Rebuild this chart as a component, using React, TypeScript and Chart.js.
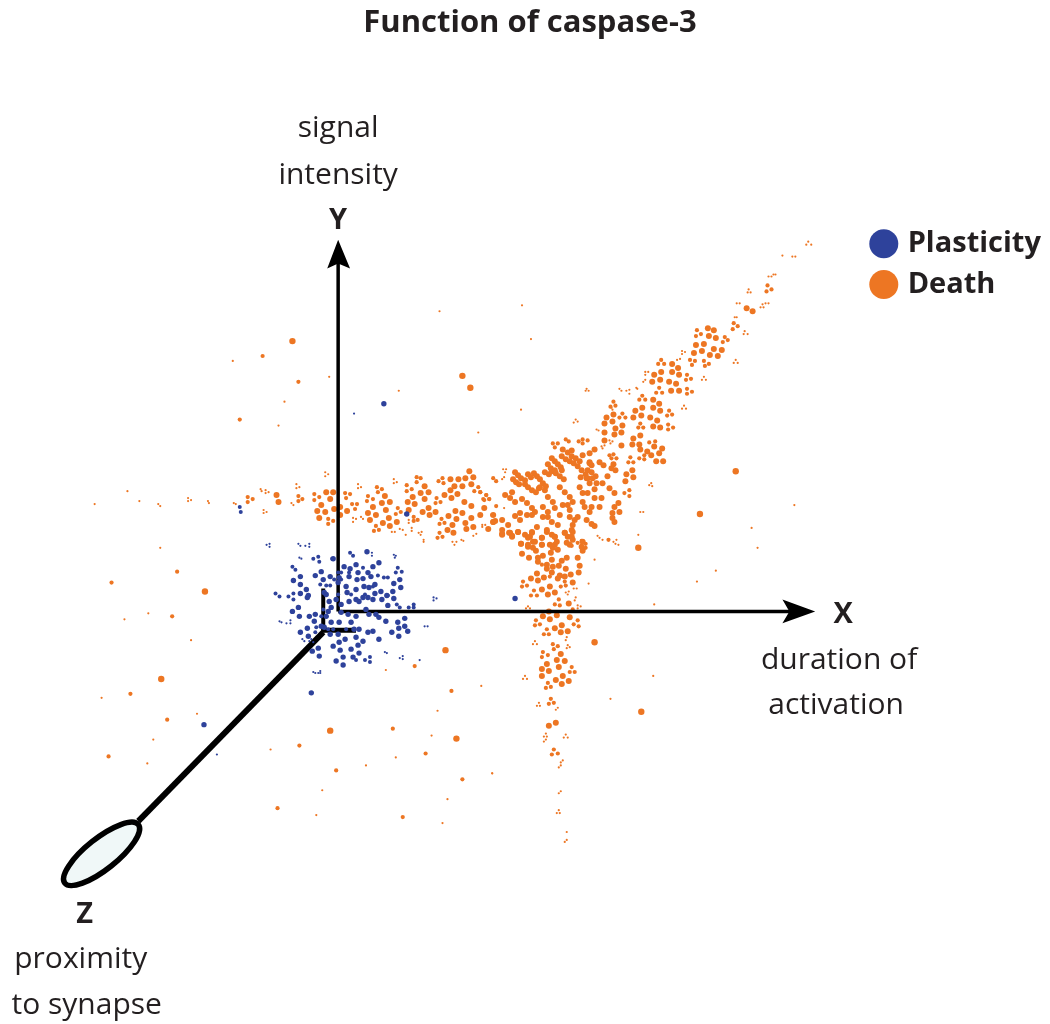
import React, { useEffect, useRef } from "react";
import { Chart, registerables } from "chart.js";

Chart.register(...registerables);

type P = [number, number];

const seriesNames = ["Plasticity", "Death"];

const deathLargeUpperArm: P[] = [
  [709,327],[715,329],[710,335],[717,337],[697,344],[705,343],[695,352],[703,350],[715,348],[723,349],[711,354],[719,355],
  [748,307],[754,310],[673,363],[679,367],[662,371],[673,371],[680,374],[655,374],[661,379],[653,381],[670,381],[677,383],
  [672,390],[680,390],[654,399],[660,403],[643,407],[636,410],[654,407],[661,410],[642,415],[634,417],[651,417],[658,420],
  [654,426],[661,427],[614,414],[607,417],[605,423],[613,421],[623,425],[616,428],[605,432],[615,434],[622,432],[641,435],
  [634,438],[605,440],[622,445],[633,444],[640,444],[641,449],[655,446],[663,448],[648,451],[660,453],[652,455],[657,461],
  [664,461],[633,470],[627,474],[634,477],[626,481],
];

const deathLargeCluster: P[] = [
  [563,449],[572,450],[595,449],[590,453],[583,455],[515,472],[518,475],[521,478],[525,480],[513,479],[516,482],[519,484],
  [528,474],[531,477],[534,473],[537,476],[540,479],[543,483],[546,486],[525,484],[528,487],[532,490],[536,492],[539,488],
  [545,472],[549,474],[552,471],[556,473],[560,476],[564,479],[552,458],[555,461],[558,464],[561,467],[562,470],[548,464],
  [551,468],[555,470],[562,456],[566,459],[570,461],[574,463],[578,466],[568,452],[572,456],[576,458],[580,461],[582,470],
  [586,474],[588,478],[590,462],[592,465],[592,472],[596,476],[608,476],[614,464],[616,470],[612,468],[600,462],[604,465],
  [590,463],[588,470],[593,478],[597,483],[603,483],[610,488],[615,493],[581,477],[587,478],[590,483],[595,489],[540,487],
  [545,490],[548,497],[553,502],[560,487],[565,492],[570,497],[573,502],[580,487],[583,493],[588,493],[595,498],[602,498],
  [600,507],[592,507],[583,502],[585,507],[590,512],[619,503],[615,507],[620,512],[613,513],[613,518],[615,522],[505,495],
  [510,498],[515,502],[512,492],[522,499],[527,503],[532,508],[535,512],[543,507],[548,512],[555,508],[563,505],[570,510],
  [568,505],[520,513],[515,516],[520,520],[527,515],[532,515],[502,520],[508,525],[493,522],[543,517],[548,517],[552,522],
  [558,525],[560,515],[570,517],[575,520],[573,525],[578,517],[587,520],[592,524],[595,526],[518,532],[510,533],[512,537],
  [502,530],[502,535],[532,532],[530,537],[535,542],[537,527],[547,530],[552,535],[555,537],[557,542],[565,533],[568,537],
  [573,540],[572,530],[521,544],[528,545],[533,548],[542,538],[542,545],[567,543],[570,545],[583,542],[582,547],[553,548],
];

const deathLargeLowerArm: P[] = [
  [502,534],[509,533],[512,536],[518,532],[525,535],[528,538],[533,542],[532,533],[542,538],[547,532],[555,537],[565,533],
  [572,537],[573,532],[521,544],[528,547],[536,551],[542,545],[550,545],[555,545],[558,550],[522,554],[529,558],[538,558],
  [538,562],[543,556],[551,553],[552,560],[562,561],[567,558],[578,558],[583,551],[547,565],[547,569],[553,567],[559,566],
  [566,569],[580,566],[537,574],[531,579],[544,578],[538,581],[552,573],[560,576],[558,579],[565,577],[571,575],[579,573],
  [573,583],[550,587],[542,590],[555,593],[548,595],[543,617],[550,620],[557,616],[570,618],[569,604],[549,612],[562,626],
  [555,629],[568,632],[561,633],[561,655],[557,661],[565,662],[547,665],[559,668],[542,670],[549,672],[542,677],[563,677],
  [556,681],[569,682],[562,685],[549,727],[556,724],
];

const deathLargeLeftArm: P[] = [
  [275,495],[277,502],[325,492],[332,492],[329,499],[320,505],[333,509],[324,512],[316,511],[318,518],[339,507],[346,511],
  [339,515],[384,496],[381,503],[389,502],[372,507],[385,510],[367,513],[375,515],[369,520],[382,523],[388,518],[396,522],
  [389,526],[424,486],[412,497],[420,493],[428,492],[424,499],[407,502],[414,504],[408,510],[422,512],[428,508],[429,515],
  [435,512],[450,479],[458,479],[465,478],[469,471],[473,477],[471,484],[454,486],[462,486],[450,490],[444,495],[457,494],
  [451,498],[464,502],[471,506],[455,511],[462,513],[448,516],[456,519],[471,518],[465,523],[452,525],[473,527],[466,529],
  [447,530],[453,533],[480,515],[484,508],[488,529],[493,515],[495,521],[493,522],
];

const deathLargeOutliers: P[] = [
  [737,471],[701,514],[639,548],[203,592],[159,680],[445,651],[329,732],[456,740],[595,643],[642,713],[291,340],[462,375],[470,387],
];

const deathMedium: P[] = [
  [769,284],[773,288],[768,290],[735,322],[739,325],[734,328],[698,329],[697,335],[702,333],[726,336],[729,339],[724,341],
  [691,359],[696,360],[693,364],[705,360],[710,363],[706,365],[662,359],[659,363],[665,363],[688,374],[692,378],[687,379],
  [660,387],[657,392],[663,392],[688,388],[693,391],[688,393],[614,401],[611,406],[616,405],[643,395],[640,399],[646,399],
  [623,413],[620,417],[626,417],[670,410],[673,414],[668,415],[641,423],[639,427],[644,427],[669,424],[674,427],[669,429],
  [553,443],[558,443],[555,447],[566,439],[569,441],[579,441],[583,439],[588,440],[583,443],[650,442],[656,441],[614,454],
  [610,455],[612,458],[617,458],[631,457],[629,462],[634,462],[645,455],[640,458],[645,459],[493,478],[496,481],[625,493],
  [630,490],[630,496],[486,495],[483,499],[489,499],[480,492],[496,506],[492,515],[488,529],[609,540],
  [582,541],[586,544],[586,548],[572,546],[578,543],[542,565],[523,582],[522,587],[527,586],[534,591],[531,596],[537,596],
  [550,577],[561,587],[565,582],[566,586],[559,600],[555,605],[560,606],[573,610],[536,621],[535,626],[540,625],[578,621],
  [574,625],[579,627],[547,630],[544,635],[549,635],[553,645],[558,647],[554,650],[543,653],[548,656],[542,658],[572,668],
  [570,673],[575,673],[548,684],[546,689],[551,688],[551,700],[549,705],[554,704],[554,751],[552,756],[558,755],
  [246,497],[251,499],[246,502],[297,496],[301,499],[297,501],[313,494],[318,497],[313,500],[327,519],[332,521],[327,524],
  [344,493],[349,494],[345,498],[351,504],[356,504],[354,509],[367,496],[372,499],[366,501],[376,487],[381,489],[377,492],
  [406,485],[411,489],[406,491],[416,477],[420,478],[416,482],[438,481],[442,478],[443,483],[436,498],[440,502],[435,503],
  [375,526],[378,530],[373,531],[397,508],[395,514],[400,512],[413,521],[417,520],[413,517],[441,519],[444,523],[439,524],
  [439,533],[442,537],[437,538],[478,487],[480,492],[474,491],[486,495],[489,499],[484,500],
  [175,572],[109,583],[170,617],[128,695],[165,721],[106,758],[298,747],[276,810],[414,667],[451,692],[392,730],[425,755],
  [335,772],[462,781],[402,819],[261,355],[297,381],[238,419],
];

const deathSmall: P[] = [
  [810,240],[808,243],[813,243],[784,254],[794,255],[797,255],[770,275],[773,275],[775,273],[777,273],[749,291],[750,288],
  [752,291],[738,302],[741,302],[736,316],[738,316],[762,306],[764,303],[765,306],[767,302],[770,302],[745,333],[746,330],
  [749,333],[735,362],[737,359],[739,362],[703,379],[705,376],[707,379],[683,350],[683,353],[686,351],[678,359],[681,358],
  [646,371],[646,374],[649,371],[644,381],[646,379],[620,388],[622,390],[637,387],[638,388],[627,390],[630,389],[630,393],
  [587,388],[586,390],[589,390],[522,304],[531,338],[521,409],[574,422],[576,419],[578,421],[683,408],[685,405],[687,408],
  [597,429],[599,430],[612,407],[613,409],[602,446],[603,448],[605,445],[610,440],[611,443],[613,441],[650,485],[652,483],
  [653,486],[641,512],[644,512],[639,535],[796,505],[753,528],[759,548],[503,469],[506,469],[505,472],[502,479],[504,477],
  [598,536],[600,538],[603,540],[614,542],[617,540],[619,545],[616,544],[595,560],[589,584],[566,593],[569,592],[568,595],
  [574,589],[577,589],[576,598],[575,601],[578,606],[581,607],[578,609],[528,607],[530,609],[526,609],[567,638],[566,641],
  [535,642],[533,645],[537,645],[568,646],[570,648],[567,649],[525,677],[523,680],[527,680],[539,704],[537,707],[540,707],
  [558,709],[556,711],[546,735],[544,738],[547,738],[546,741],[544,743],[566,736],[564,739],[568,739],[563,762],[561,764],
  [561,767],[559,769],[561,793],[559,795],[559,812],[557,815],[560,815],[567,834],[567,842],[565,844],[492,775],
  [92,504],[125,491],[137,501],[156,504],[158,506],[186,498],[186,501],[189,500],[206,501],[207,503],[232,503],[234,504],
  [259,489],[260,491],[264,490],[264,493],[267,492],[295,484],[295,488],[298,487],[290,503],[292,505],[262,510],[262,513],
  [265,512],[324,472],[324,476],[327,474],[158,548],[357,484],[357,488],[360,487],[393,479],[393,483],[396,482],[352,518],
  [352,522],[355,519],[360,517],[362,519],[391,532],[394,532],[399,529],[402,530],[411,528],[411,531],[405,535],[418,533],
  [421,532],[420,535],[423,540],[423,542],[452,542],[456,542],[454,545],[461,540],[463,541],[473,536],[476,534],[408,520],
  [408,523],[482,525],[485,525],[482,527],[504,508],
  [146,614],[122,620],[189,641],[99,699],[195,715],[151,741],[145,765],[269,751],[315,817],[385,671],[481,687],[437,712],
  [431,737],[395,759],[365,767],[492,775],[321,792],[447,801],[442,825],[717,571],[698,582],[655,605],[654,677],[611,700],
  [231,360],[328,376],[283,401],[277,425],[439,310],[398,390],[478,432],
];

const plasticityLarge: P[] = [
  [366,552],[355,565],[378,563],[372,567],[357,573],[367,573],[343,567],[349,569],[332,559],[320,572],[314,576],[299,577],
  [292,581],[299,585],[329,577],[322,580],[337,583],[348,577],[338,578],[356,580],[362,579],[370,577],[399,580],[393,584],
  [400,588],[392,592],[386,596],[393,599],[363,587],[355,590],[345,587],[346,593],[374,585],[368,588],[374,594],[380,592],
  [381,600],[387,606],[305,590],[299,594],[307,596],[306,598],[323,593],[325,595],[328,602],[335,600],[340,605],[348,602],
  [355,600],[358,602],[362,598],[367,598],[372,600],[330,608],[327,612],[325,617],[291,612],[297,608],[298,617],[308,617],
  [314,615],[313,622],[340,613],[347,615],[355,617],[365,610],[368,615],[375,615],[378,618],[385,622],[397,623],[404,619],
  [398,629],[404,627],[407,632],[391,633],[398,637],[378,640],[372,632],[367,633],[358,630],[353,630],[350,623],[338,623],
  [330,623],[323,628],[320,627],[306,629],[299,633],[307,637],[329,635],[337,635],[344,640],[355,638],[362,642],[357,646],
  [338,643],[332,647],[350,650],[339,651],[311,652],[317,649],[318,657],[342,658],[335,662],[342,666],[352,658],[358,654],
  [310,694],[383,403],[202,726],[515,599],[406,514],
];

const plasticityMedium: P[] = [
  [349,553],[352,556],[317,557],[312,559],[318,562],[291,567],[294,570],[331,559],[274,594],[278,597],[287,597],[292,594],
  [292,600],[319,585],[325,586],[329,586],[337,573],[340,580],[383,578],[387,578],[397,568],[395,573],[401,572],[377,576],
  [362,568],[372,587],[364,595],[387,596],[396,605],[399,608],[408,608],[413,605],[413,608],[322,610],[320,617],[314,633],
  [369,658],[364,661],[369,663],[355,661],[348,573],[333,580],[340,573],[350,595],[337,595],[332,630],[327,630],[345,630],
  [315,628],[238,507],[239,512],
];

const plasticitySmall: P[] = [
  [265,545],[268,544],[268,547],[297,544],[299,546],[304,546],[308,544],[308,547],[298,558],[300,559],[371,553],[371,556],
  [393,555],[395,556],[394,558],[433,598],[436,599],[433,601],[278,622],[280,623],[285,624],[289,621],[289,624],[424,627],
  [427,627],[301,640],[303,642],[384,653],[386,654],[399,659],[402,657],[402,660],[419,661],[312,673],[314,674],[317,674],
  [319,672],[319,674],[308,642],[312,643],[310,640],[353,413],[215,756],
];

const yAxisLine: P[] = [[337,612],[337,255]];
const xAxisLine: P[] = [[337,612],[800,612]];
const zAxisLine: P[] = [[322,633],[136,823]];
const rightAngleVertical: P[] = [[322,589],[322,633]];
const rightAngleHorizontal: P[] = [[320,631],[355,631]];
const yArrowHead: P[] = [[337,238],[349,267],[337,262],[326,267]];
const xArrowHead: P[] = [[817,612],[784,600],[791,612],[784,624]];
const legendMarkers: P[] = [[886,242],[886,283]];

const titleText = "Function of caspase-3";
const yLabel = ["signal", "intensity"];
const xLabel = ["duration of", "activation"];
const zLabel = ["proximity", "to synapse"];
const axisLetters = ["Y", "X", "Z"];

const ORANGE = "#ED7623";
const BLUE = "#2E429B";
const INK = "#231F20";
const FAMILY = '"Open Sans", sans-serif';

const pts = (a: P[]) => a.map(([x, y]) => ({ x, y }));

const dots = (label: string, a: P[], color: string, r: number, order: number) => ({
  label, data: pts(a), backgroundColor: color, borderWidth: 0, pointBorderWidth: 0,
  pointRadius: r, pointHoverRadius: r, pointBackgroundColor: color, order, showLine: false,
});
const stroke = (a: P[], w: number, order: number) => ({
  data: pts(a), borderColor: "#000", borderWidth: w, pointRadius: 0, showLine: true,
  tension: 0, fill: false, order, borderCapStyle: "butt",
});
const head = (a: P[], order: number) => ({
  data: pts(a), borderColor: "#000", backgroundColor: "#000", borderWidth: 0, pointRadius: 0,
  showLine: true, tension: 0, fill: "shape", order,
});

const decorations = {
  id: "decorations",
  afterDatasetsDraw(chart: any) {
    const { ctx, scales } = chart;
    const px = (v: number) => scales.x.getPixelForValue(v);
    const py = (v: number) => scales.y.getPixelForValue(v);

    ctx.save();
    // Z-axis end: the flattened disc
    ctx.beginPath();
    ctx.ellipse(px(99), py(856), 47, 15.5, -Math.atan2(31, 39), 0, Math.PI * 2);
    ctx.fillStyle = "#F0F8F8";
    ctx.fill();
    ctx.lineWidth = 5.5;
    ctx.strokeStyle = "#000";
    ctx.stroke();

    // Legend markers
    legendMarkers.forEach(([x, y], i) => {
      ctx.beginPath();
      ctx.arc(px(x), py(y), 14.5, 0, Math.PI * 2);
      ctx.fillStyle = i === 0 ? BLUE : ORANGE;
      ctx.fill();
    });

    const text = (s: string, x: number, y: number, font: string, align: CanvasTextAlign = "center") => {
      ctx.font = font;
      ctx.textAlign = align;
      ctx.textBaseline = "alphabetic";
      ctx.fillStyle = INK;
      ctx.fillText(s, px(x), py(y));
    };
    const bold = `700 29px ${FAMILY}`;
    const regular = `400 30px ${FAMILY}`;
    text(titleText, 530, 29, `700 31px ${FAMILY}`);
    text(seriesNames[0], 910, 250, bold, "left");
    text(seriesNames[1], 910, 292, bold, "left");
    text(yLabel[0], 337, 135, regular);
    text(yLabel[1], 337, 182, regular);
    text(axisLetters[0], 337, 227, bold);
    text(axisLetters[1], 845, 624, bold);
    text(xLabel[0], 841, 670, regular);
    text(xLabel[1], 838, 715, regular);
    text(axisLetters[2], 82, 926, bold);
    text(zLabel[0], 78, 971, regular);
    text(zLabel[1], 84, 1017, regular);
    ctx.restore();
  },
};

export default function App() {
  const ref = useRef<HTMLCanvasElement>(null);
  useEffect(() => {
    const chart = new Chart(ref.current!, {
      type: "scatter",
      data: {
        datasets: [
          dots("Death", deathLargeUpperArm, ORANGE, 3, 5),
          dots("Death", deathLargeCluster, ORANGE, 3, 5),
          dots("Death", deathLargeLowerArm, ORANGE, 3, 5),
          dots("Death", deathLargeLeftArm, ORANGE, 3, 5),
          dots("Death", deathLargeOutliers, ORANGE, 3.2, 5),
          dots("Death", deathMedium, ORANGE, 2.1, 5),
          dots("Death", deathSmall, ORANGE, 1.1, 5),
          stroke(yAxisLine, 3.5, 3),
          stroke(xAxisLine, 3.5, 3),
          stroke(zAxisLine, 6, 3),
          stroke(rightAngleVertical, 4, 3),
          stroke(rightAngleHorizontal, 5, 3),
          head(yArrowHead, 3),
          head(xArrowHead, 3),
          dots("Plasticity", plasticityLarge, BLUE, 2.7, 1),
          dots("Plasticity", plasticityMedium, BLUE, 2, 1),
          dots("Plasticity", plasticitySmall, BLUE, 1.1, 1),
        ] as any,
      },
      options: {
        responsive: false,
        animation: false,
        layout: { padding: 0 },
        scales: {
          x: { type: "linear", min: 0, max: 1050, display: false },
          y: { type: "linear", min: 0, max: 1024, reverse: true, display: false },
        },
        plugins: {
          legend: { display: false },
          title: { display: false },
          tooltip: { enabled: false },
        },
      },
      plugins: [decorations],
    } as any);
    return () => chart.destroy();
  }, []);
  return (
    <canvas
      ref={ref}
      width={1050}
      height={1024}
      style={{ position: "absolute", left: 0, top: 0, display: "block" }}
    />
  );
}
